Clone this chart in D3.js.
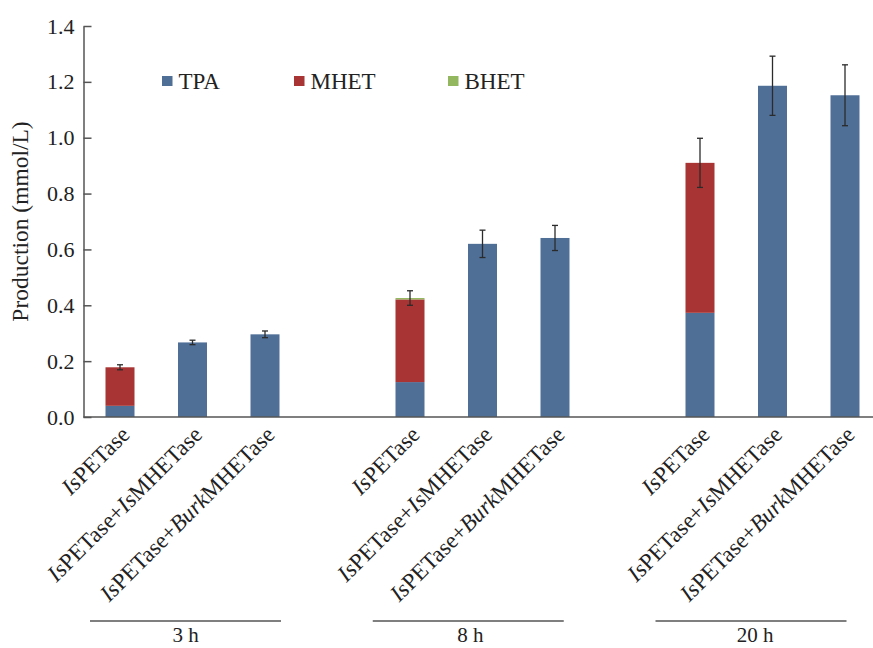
<!DOCTYPE html>
<html>
<head>
<meta charset="utf-8">
<script src="https://cdn.jsdelivr.net/npm/d3@7"></script>
<style>
  html, body { margin: 0; padding: 0; background: #fff; }
  svg { display: block; font-family: "Liberation Serif", "Times New Roman", serif; }
</style>
</head>
<body>
<svg id="chart" width="873" height="648"></svg>
<script>
// Sampling times (one group of three bars each)
const groups = ["3 h", "8 h", "20 h"];
// Enzyme combinations; text between * is set in italics
const enzymes = ["*Is*PETase", "*Is*PETase+*Is*MHETase", "*Is*PETase+*Burk*MHETase"];
// Product amounts (mmol/L), ordered group by group
const tpa  = [0.040, 0.267, 0.296, 0.125, 0.620, 0.641, 0.373, 1.186, 1.152];
const mhet = [0.138, 0.000, 0.000, 0.296, 0.000, 0.000, 0.537, 0.000, 0.000];
const bhet = [0.000, 0.000, 0.000, 0.005, 0.000, 0.000, 0.000, 0.000, 0.000];
// Standard deviation of the total production
const errs = [0.009, 0.008, 0.012, 0.026, 0.049, 0.045, 0.088, 0.106, 0.109];
const seriesNames = ["TPA", "MHET", "BHET"];
const seriesColors = ["#4f6f97", "#a83533", "#93b75f"];
const yTicks = [0, 0.2, 0.4, 0.6, 0.8, 1.0, 1.2, 1.4];

const svg = d3.select("#chart");
const W = 873, H = 648;
const axisX = 83.5, baseY = 417, topY = 26;
const serif = "Liberation Serif, Times New Roman, serif";

// One slot per bar plus an empty slot between groups
const slots = [];
groups.forEach((g, gi) => {
  enzymes.forEach((e, ei) => slots.push(g + "|" + ei));
  if (gi < groups.length - 1) slots.push("gap" + gi);
});

const x = d3.scaleBand().domain(slots).range([83.75, 881.25])
  .paddingInner(0.6).paddingOuter(0.3);
const y = d3.scaleLinear().domain([0, 1.4]).range([baseY, topY]);

const rows = [];
groups.forEach((g, gi) => enzymes.forEach((e, ei) => {
  const i = gi * enzymes.length + ei;
  rows.push({ key: g + "|" + ei, group: g, gi, ei, label: e,
              TPA: tpa[i], MHET: mhet[i], BHET: bhet[i], err: errs[i] });
}));

const stack = d3.stack().keys(seriesNames)(rows);

// Stacked bars
svg.append("g").selectAll("g").data(stack).join("g")
  .attr("fill", (d, i) => seriesColors[i])
  .selectAll("rect").data(d => d.filter(s => s[1] - s[0] > 0)).join("rect")
  .attr("x", d => x(d.data.key))
  .attr("width", x.bandwidth())
  .attr("y", d => y(d[1]))
  .attr("height", d => y(d[0]) - y(d[1]));

// Error bars around the stack total
const eb = svg.append("g").attr("stroke", "#2b2b2b").attr("stroke-width", 1.3)
  .selectAll("g").data(rows).join("g")
  .attr("transform", d => `translate(${x(d.key) + x.bandwidth() / 2},0)`);
const total = d => d.TPA + d.MHET + d.BHET;
eb.append("line").attr("y1", d => y(total(d) + d.err)).attr("y2", d => y(total(d) - d.err));
eb.append("line").attr("x1", -3).attr("x2", 3)
  .attr("y1", d => y(total(d) + d.err)).attr("y2", d => y(total(d) + d.err));
eb.append("line").attr("x1", -3).attr("x2", 3)
  .attr("y1", d => y(total(d) - d.err)).attr("y2", d => y(total(d) - d.err));

// Y axis with inward ticks
const yAxis = svg.append("g").attr("transform", `translate(${axisX},0)`)
  .call(d3.axisLeft(y).tickValues(yTicks).tickFormat(d3.format(".1f"))
    .tickSizeInner(-8).tickSizeOuter(0).tickPadding(9));
yAxis.select(".domain").attr("stroke", "#555").attr("stroke-width", 1.5);
yAxis.selectAll(".tick line").attr("stroke", "#555").attr("stroke-width", 1.5);
yAxis.selectAll(".tick text").attr("font-size", 22).attr("fill", "#222")
  .attr("font-family", serif);

// Baseline running to the right edge
svg.append("line").attr("x1", axisX).attr("x2", W)
  .attr("y1", baseY).attr("y2", baseY)
  .attr("stroke", "#555").attr("stroke-width", 1.5);

// Y axis title
svg.append("text").attr("transform", `translate(28,${(topY + baseY) / 2}) rotate(-90)`)
  .attr("text-anchor", "middle").attr("font-size", 23.5).attr("fill", "#222")
  .text("Production (mmol/L)");

// Rotated category labels with italic species prefixes
const lab = svg.append("g").selectAll("text").data(rows).join("text")
  .attr("transform", d => `translate(${x(d.key) + x.bandwidth() / 2 + 11},436) rotate(-45)`)
  .attr("text-anchor", "end").attr("font-size", 23).attr("fill", "#222");
lab.each(function (d) {
  const t = d3.select(this);
  d.label.split("*").forEach((part, pi) => {
    if (!part) return;
    t.append("tspan").attr("font-style", pi % 2 === 1 ? "italic" : "normal").text(part);
  });
});

// Group brackets and time labels
groups.forEach((g, gi) => {
  const first = x(g + "|0"), last = x(g + "|" + (enzymes.length - 1)) + x.bandwidth();
  const cx = (first + last) / 2 - 7 - 7.25 * gi;
  svg.append("line").attr("x1", cx - 95.5).attr("x2", cx + 95.5)
    .attr("y1", 621).attr("y2", 621).attr("stroke", "#555").attr("stroke-width", 1.5);
  svg.append("text").attr("x", cx + 2 * gi).attr("y", 642).attr("text-anchor", "middle")
    .attr("font-size", 21).attr("fill", "#222").text(g);
});

// Legend
const legX = [162, 294, 448];
const leg = svg.append("g").selectAll("g").data(seriesNames).join("g")
  .attr("transform", (d, i) => `translate(${legX[i]},76)`);
leg.append("rect").attr("width", 10.5).attr("height", 10)
  .attr("fill", (d, i) => seriesColors[i]);
leg.append("text").attr("x", 16.5).attr("y", 13).attr("font-size", 23).attr("fill", "#222")
  .text(d => d);
</script>
</body>
</html>
